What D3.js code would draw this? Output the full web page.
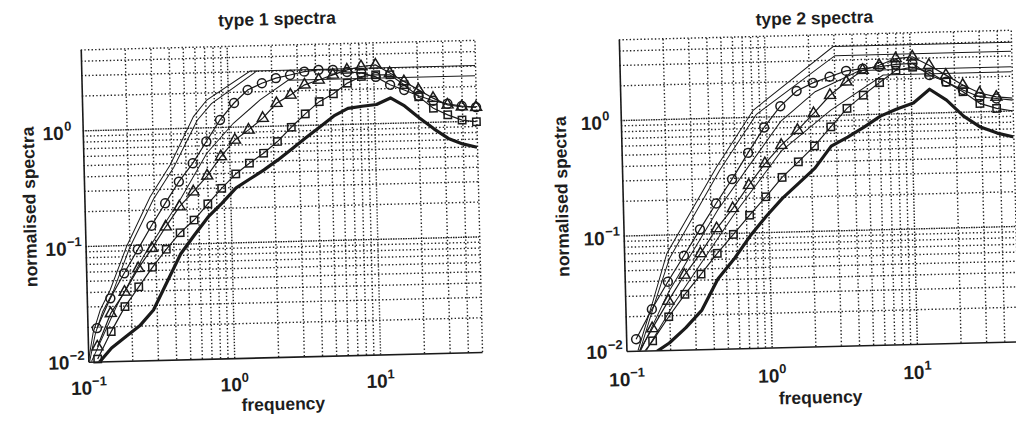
<!DOCTYPE html>
<html>
<head>
<meta charset="utf-8">
<script src="https://cdn.jsdelivr.net/npm/d3@7"></script>
<style>
  html, body { margin: 0; padding: 0; background: #fff; }
  svg { display: block; }
  text { font-family: "Liberation Sans", Arial, Helvetica, sans-serif; fill: #1d1d1d; }
</style>
</head>
<body>
<svg id="fig" width="1016" height="422"></svg>
<script>
// ---------- type 1 spectra ----------
const freq1 = [0.116, 0.145, 0.182, 0.228, 0.285, 0.357, 0.447, 0.56, 0.70, 0.876,
               1.10, 1.37, 1.72, 2.15, 2.69, 3.37, 4.22, 5.29, 6.62, 8.28,
               10.4, 13.0, 16.2, 20.3, 25.5, 31.9, 39.9, 50.0];
const circles1 = [0.0194, 0.0349, 0.057, 0.0912, 0.145, 0.225, 0.344, 0.492, 0.754, 1.15,
                  1.60, 2.06, 2.34, 2.57, 2.72, 2.89, 2.97, 2.95, 2.81, 2.74,
                  2.51, 2.13, 1.91, 1.69, 1.52, 1.42, 1.35, 1.31];
const triangles1 = [0.0134, 0.0259, 0.0393, 0.0625, 0.0925, 0.141, 0.209, 0.280, 0.381, 0.555,
                    0.767, 0.931, 1.167, 1.56, 1.83, 2.22, 2.43, 2.67, 2.93, 3.11,
                    3.19, 2.69, 2.26, 1.90, 1.60, 1.39, 1.33, 1.31];
const squares1 = [0.0105, 0.018, 0.0294, 0.0433, 0.0634, 0.0901, 0.1245, 0.159, 0.218, 0.295,
                  0.390, 0.480, 0.581, 0.728, 0.961, 1.245, 1.578, 1.83, 2.25, 2.55,
                  2.62, 2.60, 2.12, 1.66, 1.31, 1.14, 1.02, 0.98];
const thick1 = [0.0095, 0.013, 0.0161, 0.0199, 0.0271, 0.047, 0.0814, 0.118, 0.168, 0.220,
                0.295, 0.350, 0.417, 0.505, 0.624, 0.773, 0.953, 1.18, 1.36, 1.41,
                1.45, 1.64, 1.39, 1.09, 0.869, 0.713, 0.635, 0.590];
// reference spectra (vertices of thin polylines: [frequency, level])
const thinA1 = [[0.1, 0.01], [0.109, 0.0177], [0.123, 0.0278], [0.145, 0.0412], [0.191, 0.097],
                [0.282, 0.257], [0.392, 0.482], [0.577, 1.245], [0.716, 1.72], [1.435, 3.0], [50, 3.0]];
const thinB1 = [[0.102, 0.01], [0.113, 0.0175], [0.128, 0.027], [0.152, 0.04], [0.2, 0.094],
                [0.297, 0.245], [0.415, 0.46], [0.61, 1.15], [0.77, 1.6], [1.6, 3.0]];
const thinC1 = [[0.105, 0.01], [0.16, 0.03], [0.25, 0.08], [0.452, 0.239], [0.702, 0.597],
                [1.08, 1.07], [1.66, 1.68], [2.6, 2.45], [50, 2.45]];

// ---------- type 2 spectra ----------
const freq2 = [0.117, 0.152, 0.198, 0.258, 0.336, 0.438, 0.570, 0.742, 0.966, 1.26,
               1.64, 2.13, 2.78, 3.62, 4.71, 6.13, 7.98, 10.4, 13.5, 17.6,
               22.9, 29.8, 38.8, 50.5];
const circles2 = [0.0126, 0.0227, 0.039, 0.0649, 0.109, 0.181, 0.292, 0.489, 0.805, 1.22,
                  1.64, 1.91, 2.14, 2.39, 2.48, 2.55, 2.65, 2.68, 2.11, 1.83,
                  1.54, 1.33, 1.28, 1.23];
const triangles2 = [0.009, 0.0155, 0.0266, 0.0442, 0.0675, 0.110, 0.163, 0.257, 0.392, 0.561,
                    0.75, 1.04, 1.48, 1.92, 2.40, 2.63, 2.98, 3.06, 2.57, 2.09,
                    1.70, 1.44, 1.32, 1.28];
const squares2 = [0.008, 0.0121, 0.0194, 0.0301, 0.0447, 0.067, 0.097, 0.141, 0.202, 0.295,
                  0.399, 0.544, 0.789, 1.13, 1.46, 1.86, 2.36, 2.49, 2.23, 1.82,
                  1.49, 1.17, 1.05, 0.99];
const thick2 = [0.008, 0.0093, 0.0115, 0.0154, 0.0218, 0.0402, 0.0593, 0.093, 0.137, 0.195,
                0.261, 0.349, 0.537, 0.637, 0.772, 0.953, 1.09, 1.22, 1.59, 1.27,
                0.916, 0.730, 0.642, 0.589];
const thinA2 = [[0.12, 0.01], [0.156, 0.0272], [0.197, 0.0686], [0.449, 0.376], [0.818, 1.14],
                [2.98, 3.9], [50, 3.9]];
const thinB2 = [[0.124, 0.01], [0.16, 0.026], [0.205, 0.062], [0.47, 0.35], [0.86, 1.05],
                [3.05, 3.25], [50, 3.25]];
const thinC2 = [[0.12, 0.009], [0.2, 0.032], [0.45, 0.16], [0.74, 0.37], [1.26, 0.9],
                [2.2, 1.6], [4.5, 2.39], [50, 2.39]];
const thinD2 = [[0.13, 0.009], [0.22, 0.026], [0.57, 0.14], [1.26, 0.5], [2.8, 1.1],
                [6.5, 2.16], [50, 2.16]];

// ---------- axes ----------
const xDomain = [0.1, 50];
const yDomain = [0.01, 5];
const xTickValues = [0.1, 1, 10];
const xTickExps = ["\u22121", "0", "1"];
const yTickValues = [0.01, 0.1, 1];
const yTickExps = ["\u22122", "\u22121", "0"];
const xMinor = [0.2,0.3,0.4,0.5,0.6,0.7,0.8,0.9, 2,3,4,5,6,7,8,9, 20,30,40,50];
const yMinor = [0.02,0.03,0.04,0.05,0.06,0.07,0.08,0.09, 0.2,0.3,0.4,0.5,0.6,0.7,0.8,0.9, 2,3,4,5];
const xMajor = [1, 10];
const yMajor = [0.1, 1];

const panels = [
  { title: "type 1 spectra", x: 84.8, y: 39.1, w: 393.8, h: 312.3,
    titleGap: 19.7, yLabelGap: 49, xLabelGap: 53, xTickGap: 33,
    freq: freq1, circles: circles1, triangles: triangles1, squares: squares1,
    thick: thick1, thin: [thinA1, thinB1, thinC1] },
  { title: "type 2 spectra", x: 623, y: 42.1, w: 392, h: 311.8,
    titleGap: 10.5, yLabelGap: 55, xLabelGap: 57, xTickGap: 35,
    freq: freq2, circles: circles2, triangles: triangles2, squares: squares2,
    thick: thick2, thin: [thinA2, thinB2, thinC2, thinD2] }
];

const ink = "#1a1a1a";
const svg = d3.select("#fig");
svg.append("rect").attr("width", 1016).attr("height", 422).attr("fill", "#fff");
// the printed page sits slightly askew
const page = svg.append("g").attr("transform", "rotate(-1.4,508,211)");

panels.forEach((p, pi) => {
  const x = d3.scaleLog().domain(xDomain).range([p.x, p.x + p.w]);
  const y = d3.scaleLog().domain(yDomain).range([p.y + p.h, p.y]);
  const g = page.append("g");

  const clipId = "plotclip" + pi;
  g.append("clipPath").attr("id", clipId).append("rect")
    .attr("x", p.x).attr("y", p.y).attr("width", p.w).attr("height", p.h);

  // dotted grid
  const gridStyle = (sel, dash, wdt) => {
    sel.select(".domain").remove();
    sel.selectAll(".tick text").remove();
    sel.selectAll(".tick line")
      .attr("stroke", "#222").attr("stroke-width", wdt)
      .attr("stroke-dasharray", dash);
  };
  g.append("g").attr("transform", `translate(0,${p.y + p.h})`)
    .call(d3.axisBottom(x).tickValues(xMinor).tickSize(-p.h).tickFormat(""))
    .call(gridStyle, "1.4,2.2", 1.4);
  g.append("g").attr("transform", `translate(0,${p.y + p.h})`)
    .call(d3.axisBottom(x).tickValues(xMajor).tickSize(-p.h).tickFormat(""))
    .call(gridStyle, "1.4,1.6", 1.4);
  g.append("g").attr("transform", `translate(${p.x},0)`)
    .call(d3.axisLeft(y).tickValues(yMinor).tickSize(-p.w).tickFormat(""))
    .call(gridStyle, "1.4,2.2", 1.4);
  g.append("g").attr("transform", `translate(${p.x},0)`)
    .call(d3.axisLeft(y).tickValues(yMajor).tickSize(-p.w).tickFormat(""))
    .call(gridStyle, "1.6,0.9", 1.4);

  const plot = g.append("g").attr("clip-path", `url(#${clipId})`);
  const line = d3.line().x(d => x(d[0])).y(d => y(d[1]));

  // reference spectra
  p.thin.forEach(pts => {
    plot.append("path").attr("d", line(pts))
      .attr("fill", "none").attr("stroke", ink).attr("stroke-width", 1);
  });

  // measured spectra with markers
  const series = [
    { vals: p.circles, sym: d3.symbolCircle, size: 62 },
    { vals: p.triangles, sym: d3.symbolTriangle, size: 52 },
    { vals: p.squares, sym: d3.symbolSquare, size: 54 }
  ];
  series.forEach(s => {
    const pts = p.freq.map((f, i) => [f, s.vals[i]]);
    plot.append("path").attr("d", line(pts))
      .attr("fill", "none").attr("stroke", ink).attr("stroke-width", 1.2);
    g.append("g").selectAll("path").data(pts.filter(d => d[1] >= yDomain[0] && d[0] <= xDomain[1]))
      .join("path")
      .attr("transform", d => `translate(${x(d[0])},${y(d[1])})`)
      .attr("d", d3.symbol().type(s.sym).size(s.size))
      .attr("fill", "none").attr("stroke", ink).attr("stroke-width", 1.5);
  });

  // thick curve
  plot.append("path").attr("d", line(p.freq.map((f, i) => [f, p.thick[i]])))
    .attr("fill", "none").attr("stroke", ink).attr("stroke-width", 3.2)
    .attr("stroke-linejoin", "round");

  // solid axis lines (left and bottom)
  g.append("g").attr("transform", `translate(0,${p.y + p.h})`)
    .call(d3.axisBottom(x).tickValues([]).tickSizeOuter(0))
    .call(a => a.select(".domain").attr("stroke", ink).attr("stroke-width", 1.6));
  g.append("g").attr("transform", `translate(${p.x},0)`)
    .call(d3.axisLeft(y).tickValues([]).tickSizeOuter(0))
    .call(a => a.select(".domain").attr("stroke", ink).attr("stroke-width", 1.6));

  // tick labels, powers of ten
  xTickValues.forEach((v, i) => {
    const t = g.append("text").attr("y", p.y + p.h + p.xTickGap)
      .attr("x", x(v)).attr("text-anchor", "middle").attr("font-weight", "bold");
    t.append("tspan").attr("font-size", 19).text("10");
    t.append("tspan").attr("font-size", 13).attr("dy", -9).text(xTickExps[i]);
  });
  yTickValues.forEach((v, i) => {
    const base = i === 0 ? y(v) + 7 : y(v) + 9;
    g.append("text").attr("x", p.x - 19).attr("y", base).attr("font-weight", "bold")
      .attr("text-anchor", "end").attr("font-size", 19).text("10");
    g.append("text").attr("x", p.x - 18.5).attr("y", base - 9).attr("font-weight", "bold")
      .attr("font-size", 13).text(yTickExps[i]);
  });

  // titles and axis labels
  g.append("text").attr("x", p.x + p.w / 2).attr("y", p.y - p.titleGap)
    .attr("text-anchor", "middle").attr("font-size", 17.5).attr("font-weight", "bold")
    .text(p.title);
  g.append("text").attr("x", p.x + p.w / 2 - 3).attr("y", p.y + p.h + p.xLabelGap)
    .attr("text-anchor", "middle").attr("font-size", 17.5).attr("font-weight", "bold")
    .text("frequency");
  g.append("text")
    .attr("transform", `translate(${p.x - p.yLabelGap},${p.y + p.h / 2}) rotate(-90)`)
    .attr("text-anchor", "middle").attr("font-size", 17.5).attr("font-weight", "bold")
    .text("normalised spectra");
});
</script>
</body>
</html>
